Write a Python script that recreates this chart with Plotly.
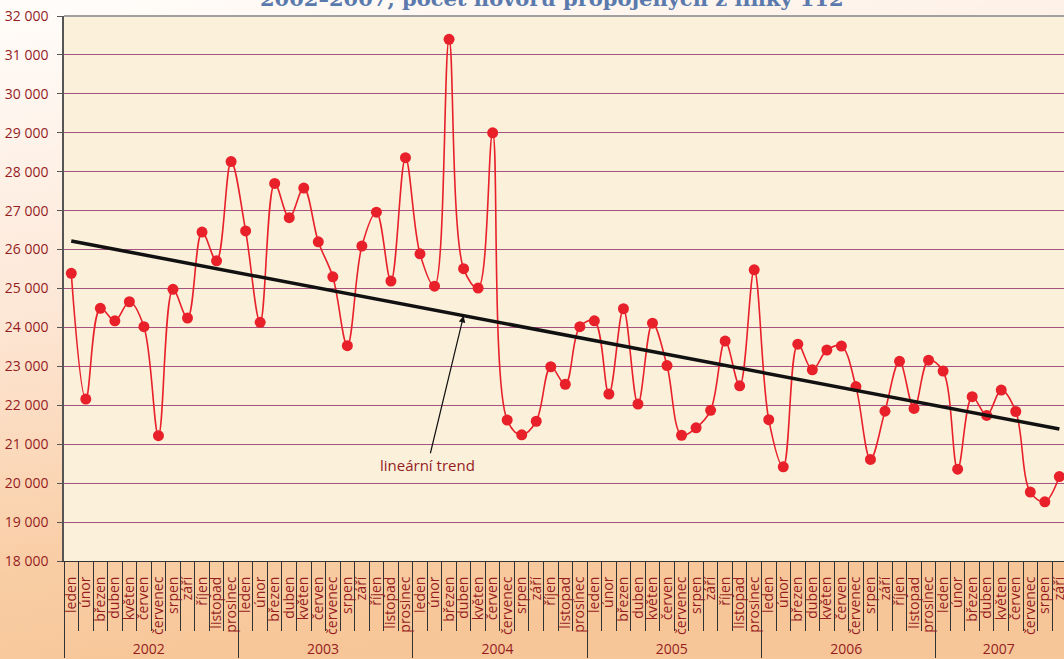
import base64
import plotly.graph_objects as go

# monthly counts of calls
months = ["leden", "únor", "březen", "duben", "květen", "červen",
          "červenec", "srpen", "září", "říjen", "listopad", "prosinec"]
years = ["2002", "2003", "2004", "2005", "2006", "2007"]

calls_2002 = [25390, 22160, 24490, 24170, 24660, 24020, 21220, 24980, 24240, 26450, 25710, 28260]
calls_2003 = [26480, 24130, 27700, 26820, 27580, 26200, 25300, 23530, 26090, 26960, 25190, 28360]
calls_2004 = [25890, 25060, 31400, 25510, 25010, 29000, 21620, 21240, 21590, 22990, 22540, 24020]
calls_2005 = [24170, 22290, 24480, 22030, 24110, 23020, 21230, 21420, 21870, 23650, 22500, 25480]
calls_2006 = [21630, 20420, 23570, 22910, 23420, 23520, 22480, 20610, 21850, 23130, 21920, 23160]
calls_2007 = [22880, 20360, 22220, 21740, 22390, 21840, 19770, 19520, 20170]

# linear trend, value at first and last month shown
trend_values = [26220, 21390]

RED = "#e8202a"
LABEL = "#951c1f"
FONT = "Open Sans, Noto Sans, sans-serif"

x_year, x_month, y_vals = [], [], []
for yr, vals in zip(years, [calls_2002, calls_2003, calls_2004, calls_2005, calls_2006, calls_2007]):
    for m, v in zip(months, vals):
        x_year.append(yr)
        x_month.append(m)
        y_vals.append(v)

fig = go.Figure()

# data trace first so the category order follows the months
fig.add_trace(go.Scatter(
    x=[x_year, x_month],
    y=y_vals,
    mode="lines+markers",
    line=dict(color=RED, width=1.6, shape="spline", smoothing=1.0),
    marker=dict(color=RED, size=11),
    showlegend=False
))

fig.add_trace(go.Scatter(
    x=[[years[0], years[-1]], [months[0], months[len(calls_2007) - 1]]],
    y=trend_values,
    mode="lines",
    line=dict(color="#111111", width=3.5),
    hoverinfo="skip",
    showlegend=False
))

# background gradient for the whole page
svg = ('<svg xmlns="http://www.w3.org/2000/svg" viewBox="0 0 100 100" preserveAspectRatio="none">'
       '<defs><linearGradient id="g" x1="0" y1="0" x2="0.25" y2="1">'
       '<stop offset="0" stop-color="#fffdfb"/><stop offset="0.45" stop-color="#fde7d6"/>'
       '<stop offset="0.82" stop-color="#f9cda4"/><stop offset="1" stop-color="#f7c698"/>'
       '</linearGradient></defs><rect width="100" height="100" fill="url(#g)"/></svg>')
bg_src = "data:image/svg+xml;base64," + base64.b64encode(svg.encode()).decode()

fig.add_layout_image(dict(
    source=bg_src, xref="paper", yref="paper",
    x=-0.064, y=1.0294, sizex=1.064, sizey=1.2092,
    xanchor="left", yanchor="top", sizing="stretch", layer="below"
))

fig.add_shape(type="rect", xref="paper", yref="paper", x0=0, x1=1, y0=0, y1=1,
              fillcolor="#fbf0da", line=dict(width=0), layer="below")
fig.add_shape(type="line", xref="paper", yref="paper", x0=0, x1=1, y0=1, y1=1,
              line=dict(color="#a0a0a0", width=2))

fig.add_annotation(
    xref="paper", yref="y", x=0.3996, y=24300,
    ax=-36, ay=149, text="lineární trend",
    showarrow=True, arrowhead=2, arrowsize=1.1, arrowwidth=1.2,
    arrowcolor="#111111", standoff=0,
    font=dict(family=FONT, size=15, color=LABEL)
)

# title sits mostly above the page edge, as in the reference
fig.add_annotation(
    xref="paper", yref="paper", x=0.488, y=1.0055, yanchor="bottom",
    text="<b>2002–2007, počet hovorů propojených z linky 112</b>",
    showarrow=False,
    font=dict(family="DejaVu Serif, Liberation Serif, serif", size=21, color="#5a79ad")
)

fig.update_layout(
    width=1064, height=659,
    margin=dict(l=64, r=0, t=16, b=98),
    paper_bgcolor="#fffaf5",
    plot_bgcolor="rgba(0,0,0,0)",
    separators=", ",
    template="none",
    xaxis=dict(
        type="multicategory",
        range=[-0.5, 68.32],
        tickmode="linear", tick0=0, dtick=1,
        showgrid=False,
        showline=True, linecolor="#333333", linewidth=1,
        ticks="outside", ticklen=69, tickcolor="#333333", tickwidth=1,
        tickangle=-90,
        ticklabelstandoff=9,
        showdividers=True, dividercolor="#333333", dividerwidth=1,
        tickfont=dict(family=FONT, size=14, color=LABEL),
        automargin=False
    ),
    yaxis=dict(
        range=[18000, 32000],
        dtick=1000,
        tickformat=",d",
        showgrid=True, gridcolor="#a6527e", gridwidth=1.2,
        zeroline=False,
        showline=True, linecolor="#555555", linewidth=1.5,
        ticks="outside", ticklen=5, tickcolor="#555555",
        ticklabelstandoff=6,
        tickfont=dict(family=FONT, size=14, color=LABEL),
        automargin=False
    )
)

fig.write_html("out.html", config={"displayModeBar": False},
               post_script="document.body.style.margin = '0';")
